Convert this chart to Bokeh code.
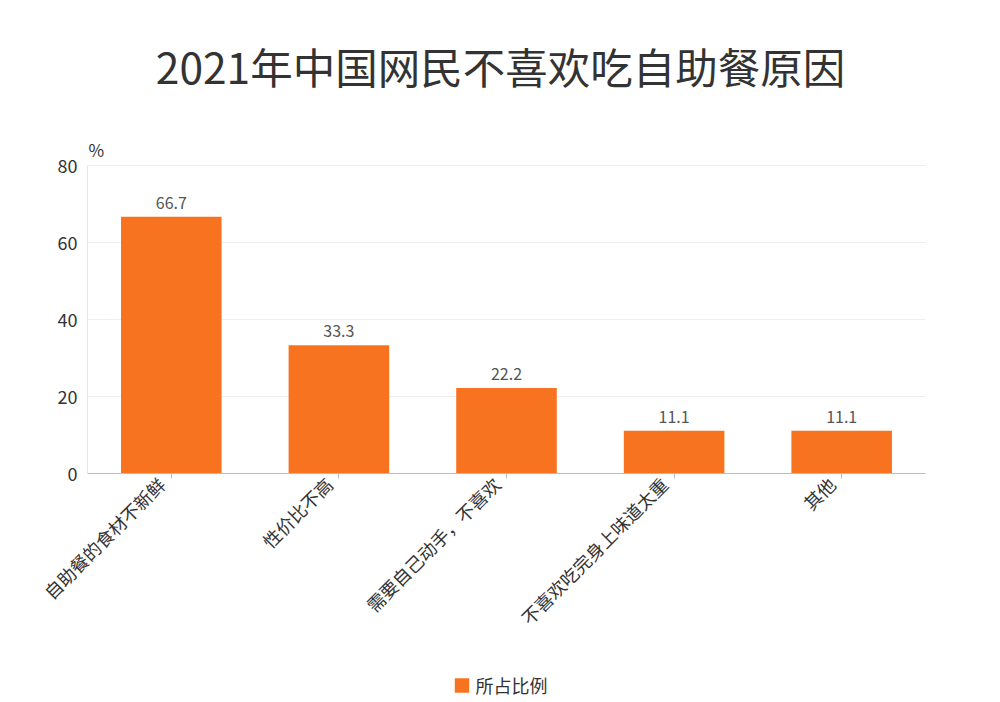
from bokeh.plotting import figure
from bokeh.models import (ColumnDataSource, Range1d, FixedTicker, LabelSet, Label, Legend, LegendItem,
                          LinearAxis, Grid)
from bokeh.core.properties import value
from bokeh.embed import file_html
from bokeh.resources import INLINE

categories = ["自助餐的食材不新鲜", "性价比不高", "需要自己动手，不喜欢", "不喜欢吃完身上味道太重", "其他"]
values = [66.7, 33.3, 22.2, 11.1, 11.1]
series_name = "所占比例"
title_text = "2021年中国网民不喜欢吃自助餐原因"
unit_text = "%"
y_ticks = [0, 20, 40, 60, 80]

FONT = "Noto Sans CJK SC"
BAR = "#F8731F"

# layout (pixels): the value area spans x 87..925, y 165..473 of the 1000x702 canvas
W, H = 1000, 702
LEFT, RIGHT, TOP, BOTTOM = 87, 75, 165, 229
n = len(categories)
ymax = y_ticks[-1]
px_x = (W - LEFT - RIGHT) / n
px_y = (H - TOP - BOTTOM) / ymax
x_range = Range1d(-LEFT / px_x, n + RIGHT / px_x)
y_range = Range1d(-BOTTOM / px_y, ymax + TOP / px_y)

xs = [i + 0.5 for i in range(n)]
src = ColumnDataSource(dict(x=xs, top=values, label=[f"{v:.1f}" for v in values]))

p = figure(width=W, height=H, frame_width=W, frame_height=H, output_backend="svg",
           toolbar_location=None, title=None, x_axis_location=None, y_axis_location=None,
           x_range=x_range, y_range=y_range, min_border=0)
p.center = [c for c in p.center if not isinstance(c, Grid)]
p.outline_line_color = None
p.background_fill_color = "white"
p.border_fill_color = "white"

# horizontal grid lines at the y ticks
grid_y = y_ticks[1:]
p.segment(x0=[0] * len(grid_y), y0=grid_y, x1=[n] * len(grid_y), y1=grid_y,
          line_color="#EEEEEE", line_width=1)

r = p.vbar(x="x", top="top", width=0.6, source=src, fill_color=BAR, line_color=None)

labels = LabelSet(x="x", y="top", text="label", source=src, text_align="center",
                  text_baseline="alphabetic", y_offset=8, text_font=value(FONT),
                  text_font_size="16px", text_color="#555555")
p.add_layout(labels)

# y axis at x = 0
yaxis = LinearAxis(fixed_location=0, bounds=(y_ticks[0], ymax), ticker=FixedTicker(ticks=y_ticks),
                   major_label_text_font=FONT, major_label_text_font_size="18px",
                   major_label_text_color="#333333", axis_line_color="#E6E6E6",
                   major_tick_line_color=None, major_tick_in=0, major_tick_out=0,
                   minor_tick_line_color=None, major_label_standoff=10)
p.add_layout(yaxis, "left")

# x axis at y = 0 (labels slightly shifted so their ends meet the ticks)
shift = 10 / px_x
lab_ticks = [x - shift for x in xs]
xaxis_lab = LinearAxis(fixed_location=0, ticker=FixedTicker(ticks=lab_ticks),
                       major_label_overrides={t: c for t, c in zip(lab_ticks, categories)},
                       major_label_orientation=0.785398,
                       major_label_text_font=FONT, major_label_text_font_size="18px",
                       major_label_text_color="#333333", axis_line_color=None,
                       major_tick_line_color=None, major_tick_in=0, major_tick_out=5,
                       minor_tick_line_color=None, major_label_standoff=2)
p.add_layout(xaxis_lab, "below")
xaxis_ticks = LinearAxis(fixed_location=0, bounds=(0, n), ticker=FixedTicker(ticks=xs),
                         major_label_overrides={x: "" for x in xs},
                         axis_line_color="#BBBBBB", major_tick_line_color="#BBBBBB",
                         major_tick_in=0, major_tick_out=5, minor_tick_line_color=None)
p.add_layout(xaxis_ticks, "below")

# title and unit
p.add_layout(Label(x=n / 2, y=ymax, x_offset=-6, y_offset=100, text=title_text,
                   text_align="center", text_baseline="middle", text_font=FONT,
                   text_font_size="42.5px", text_color="#333333"))
p.add_layout(Label(x=0, y=ymax, x_offset=1, y_offset=16, text=unit_text,
                   text_align="left", text_baseline="middle", text_font=FONT,
                   text_font_size="17px", text_color="#333333"))

legend = Legend(items=[LegendItem(label=series_name, renderers=[r])],
                location="bottom_center", orientation="horizontal",
                label_text_font=FONT, label_text_font_size="18px", label_text_color="#333333",
                glyph_width=18, glyph_height=18, padding=0, margin=4, spacing=0,
                label_standoff=5, border_line_color=None, background_fill_alpha=0)
p.add_layout(legend, "center")

open("out.html", "w").write(file_html(p, INLINE))
